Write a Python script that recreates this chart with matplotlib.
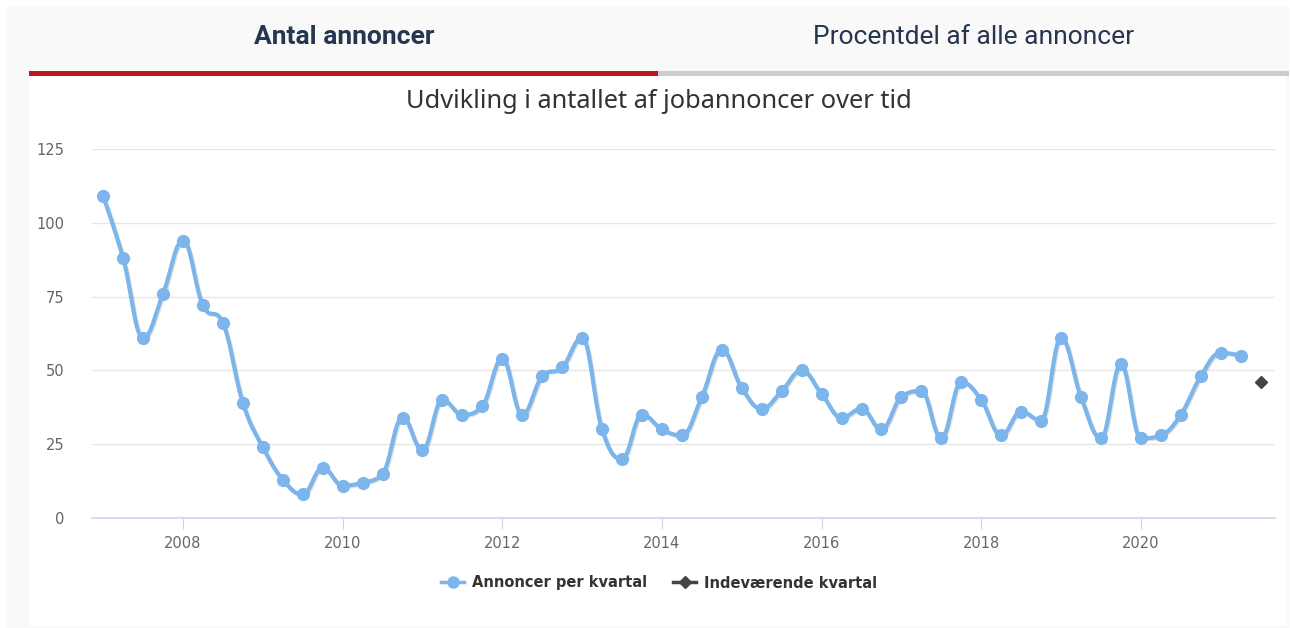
import numpy as np
import matplotlib
matplotlib.use("Agg")
import matplotlib.pyplot as plt
from matplotlib.patches import Rectangle
from matplotlib.lines import Line2D
import matplotlib.patheffects as pe

# quarterly job ads, 2007 Q1 .. 2021 Q2
quarters = np.arange(2007, 2021.5, 0.25)
ads = [109, 88, 61, 76, 94, 72, 66, 39, 24, 13, 8, 17, 11, 12, 15, 34,
       23, 40, 35, 38, 54, 35, 48, 51, 61, 30, 20, 35, 30, 28, 41, 57,
       44, 37, 43, 50, 42, 34, 37, 30, 41, 43, 27, 46, 40, 28, 36, 33,
       61, 41, 27, 52, 27, 28, 35, 48, 56, 55]
current_x = [2021.5]
current_y = [46]

year_ticks = [2008, 2010, 2012, 2014, 2016, 2018, 2020]
y_ticks = [0, 25, 50, 75, 100, 125]

W, H = 1290, 628
fig = plt.figure(figsize=(W / 100, H / 100), dpi=100)
fig.patch.set_facecolor("white")


def fx(px):
    return px / W


def fy(py):
    return 1 - py / H


def rect(x0, y0, x1, y1, color):
    fig.patches.append(Rectangle((fx(x0), fy(y1)), fx(x1) - fx(x0), fy(y0) - fy(y1),
                                 transform=fig.transFigure, color=color, lw=0, zorder=-5))


# page frame and tabs
rect(6, 7, 1289, 628, "#f9f9f9")
rect(29, 76, 1286, 626, "white")
rect(29, 71, 658, 76, "#c0141f")
rect(658, 71, 1289, 76, "#cccccc")
fig.text(fx(344), fy(37), "Antal annoncer", ha="center", va="center",
         family="Roboto", weight="bold", fontsize=19, color="#26364f")
fig.text(fx(974), fy(37), "Procentdel af alle annoncer", ha="center", va="center",
         family="Roboto", fontsize=19, color="#26364f")
fig.text(fx(659), fy(101), "Udvikling i antallet af jobannoncer over tid", ha="center", va="center",
         family="Noto Sans", fontsize=18.3, color="#333333")

ax = fig.add_axes([fx(92), fy(518), fx(1275) - fx(92), fy(149) - fy(518)])
ax.set_facecolor("none")
ax.set_xlim(2006.86, 2021.68)
ax.set_ylim(0, 125)
for s in ["top", "right", "left"]:
    ax.spines[s].set_visible(False)
ax.spines["bottom"].set_color("#ccd6eb")
ax.spines["bottom"].set_linewidth(1.2)
ax.set_yticks(y_ticks)
ax.set_xticks(year_ticks)
ax.grid(axis="y", color="#e6e6e6", lw=1)
ax.tick_params(axis="y", length=0, pad=20, labelsize=10.5, labelcolor="#666666")
ax.tick_params(axis="x", length=8, color="#ccd6eb", pad=5, labelsize=10.5, labelcolor="#666666")
ax.set_axisbelow(True)


# Highcharts-style spline (control points 1/2.5 of the way to neighbours,
# shifted so they line up through the point, clamped against overshoot)
def spline(xs, ys, n=20):
    pts = ax.transData.transform(np.column_stack([xs, ys]))
    sm, den = 1.5, 2.5
    m = len(pts)
    lc = pts.copy()
    rc = pts.copy()
    for i in range(1, m - 1):
        (lx, ly), (px, py), (nx, ny) = pts[i - 1], pts[i], pts[i + 1]
        lcx, lcy = (sm * px + lx) / den, (sm * py + ly) / den
        rcx, rcy = (sm * px + nx) / den, (sm * py + ny) / den
        corr = 0.0
        if rcx != lcx:
            corr = (rcy - lcy) * (rcx - px) / (rcx - lcx) + py - rcy
        lcy += corr
        rcy += corr
        if lcy > ly and lcy > py:
            lcy = max(ly, py); rcy = 2 * py - lcy
        elif lcy < ly and lcy < py:
            lcy = min(ly, py); rcy = 2 * py - lcy
        if rcy > ny and rcy > py:
            rcy = max(ny, py); lcy = 2 * py - rcy
        elif rcy < ny and rcy < py:
            rcy = min(ny, py); lcy = 2 * py - rcy
        lc[i] = (lcx, lcy)
        rc[i] = (rcx, rcy)
    t = np.linspace(0, 1, n)[:, None]
    out = [pts[:1]]
    for i in range(1, m):
        p0, p1, p2, p3 = pts[i - 1], rc[i - 1], lc[i], pts[i]
        seg = ((1 - t) ** 3) * p0 + 3 * ((1 - t) ** 2) * t * p1 + 3 * (1 - t) * t ** 2 * p2 + t ** 3 * p3
        out.append(seg[1:])
    out = np.vstack(out)
    return ax.transData.inverted().transform(out)


curve = spline(quarters, ads)
ax.plot(curve[:, 0], curve[:, 1], color="#7cb5ec", lw=3, solid_capstyle="round", zorder=3,
        path_effects=[pe.SimpleLineShadow(offset=(0.8, -0.8), shadow_color="black", alpha=0.12),
                      pe.Normal()])
ax.plot(quarters, ads, ls="none", marker="o", ms=8.5, color="#7cb5ec", zorder=4, clip_on=False)
ax.plot(current_x, current_y, ls="none", marker="D", ms=6, color="#434348", zorder=4, clip_on=False)

handles = [Line2D([], [], color="#7cb5ec", lw=2.5, marker="o", ms=8),
           Line2D([], [], color="#434348", lw=2.5, marker="D", ms=6)]
fig.legend(handles, ["Annoncer per kvartal", "Indeværende kvartal"], loc="center",
           bbox_to_anchor=(fx(659), fy(583)), ncol=2, frameon=False, handlelength=1.6,
           handletextpad=0.5, columnspacing=1.8, prop={"weight": "bold", "size": 10.5},
           labelcolor="#333333")

fig.savefig("out.png", dpi=100)
